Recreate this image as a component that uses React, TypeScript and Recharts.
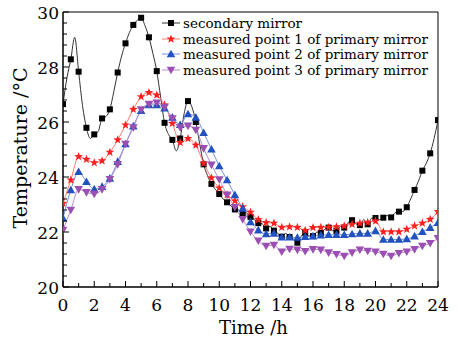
import React from 'react';
import { LineChart, Line, XAxis, YAxis, ReferenceArea } from 'recharts';

const WIDTH = 460;
const HEIGHT = 341;
const FONT = '"DejaVu Serif", "Liberation Serif", serif';

// Secondary mirror temperature, sampled every 0.25 h (markers every 0.5 h)
const secondaryMirror = [
  26.65, 27.6, 28.28, 29.08, 27.83, 26.6, 25.79, 25.4, 25.55, 25.65, 26.13, 26.2,
  26.46, 27.1, 27.8, 28.4, 28.86, 29.25, 29.53, 29.7, 29.79, 29.5, 29.08, 28.5,
  27.85, 26.9, 25.97, 25.55, 25.35, 24.95, 25.4, 26.3, 26.76, 26.55, 26.0, 25.2,
  24.46, 24.05, 23.75, 23.55, 23.38, 23.2, 23.08, 22.95, 22.82, 22.8, 22.68, 22.7,
  22.55, 22.45, 22.32, 22.3, 22.13, 22.2, 22.05, 21.95, 21.83, 21.95, 21.82, 21.75,
  21.61, 21.85, 21.97, 21.85, 21.85, 22.0, 21.97, 22.1, 22.16, 22.05, 22.04, 22.2,
  22.16, 22.35, 22.43, 22.3, 22.25, 22.45, 22.28, 22.5, 22.51, 22.45, 22.52, 22.6,
  22.53, 22.7, 22.74, 22.75, 22.9, 23.2, 23.53, 23.85, 24.23, 24.5, 24.86, 25.4,
  26.07,
];

// Primary mirror measured points, sampled every 0.5 h
const primaryPoint1 = [
  23.04, 23.89, 24.74, 24.64, 24.52, 24.59, 24.9, 25.35, 25.89, 26.46,
  26.92, 27.07, 26.98, 26.62, 25.95, 25.25, 25.4, 25.16, 24.5, 23.97,
  23.6, 23.35, 23.13, 22.92, 22.72, 22.45, 22.34, 22.32, 22.17, 22.19,
  22.17, 22.06, 22.16, 22.17, 22.17, 22.19, 22.22, 22.28, 22.32, 22.35,
  22.4, 22.01, 22.01, 22.01, 22.1, 22.22, 22.32, 22.46, 22.74,
];

const primaryPoint2 = [
  22.5, 23.53, 24.19, 23.83, 23.56, 23.65, 23.95, 24.56, 25.2, 25.85,
  26.41, 26.62, 26.62, 26.5, 26.17, 25.9, 26.29, 26.17, 25.61, 25.01,
  24.4, 23.89, 23.35, 22.86, 22.37, 22.07, 21.93, 21.95, 21.81, 21.81,
  21.8, 21.83, 21.85, 21.88, 21.9, 21.9, 21.9, 21.93, 21.95, 21.95,
  22.04, 21.73, 21.73, 21.73, 21.75, 21.85, 22.01, 22.16, 22.34,
];

const primaryPoint3 = [
  22.07, 22.8, 23.55, 23.44, 23.38, 23.55, 23.92, 24.46, 25.2, 25.8,
  26.45, 26.65, 26.7, 26.54, 26.13, 25.8, 25.86, 25.71, 25.04, 24.44,
  23.91, 23.35, 22.9, 22.46, 22.01, 21.68, 21.49, 21.53, 21.28, 21.38,
  21.35, 21.3, 21.37, 21.35, 21.25, 21.19, 21.13, 21.25, 21.35, 21.31,
  21.28, 21.2, 21.13, 21.23, 21.28, 21.37, 21.49, 21.59, 21.77,
];

const xMajorTicks = [0, 2, 4, 6, 8, 10, 12, 14, 16, 18, 20, 22, 24];
const xMinorTicks = [1, 3, 5, 7, 9, 11, 13, 15, 17, 19, 21, 23];
const yMajorTicks = [20, 22, 24, 26, 28, 30];
const yMinorTicks = [
  20.4, 20.8, 21.2, 21.6, 22.4, 22.8, 23.2, 23.6, 24.4, 24.8, 25.2, 25.6,
  26.4, 26.8, 27.2, 27.6, 28.4, 28.8, 29.2, 29.6,
];

type Row = { h: number; t: number };
const toRows = (values: number[], step: number): Row[] =>
  values.map((t, i) => ({ h: i * step, t }));

type Shape = 'square' | 'star' | 'up' | 'down';

const Marker = ({ shape, cx, cy, fill }: { shape: Shape; cx: number; cy: number; fill: string }) => {
  if (shape === 'square') {
    return <rect x={cx - 3} y={cy - 3} width={6} height={6} fill={fill} />;
  }
  if (shape === 'star') {
    const pts: string[] = [];
    for (let k = 0; k < 10; k++) {
      const r = k % 2 === 0 ? 4.6 : 1.9;
      const a = -Math.PI / 2 + (k * Math.PI) / 5;
      pts.push(`${cx + r * Math.cos(a)},${cy + r * Math.sin(a)}`);
    }
    return <polygon points={pts.join(' ')} fill={fill} />;
  }
  if (shape === 'up') {
    return <polygon points={`${cx},${cy - 4.3} ${cx - 4.3},${cy + 3.3} ${cx + 4.3},${cy + 3.3}`} fill={fill} />;
  }
  return <polygon points={`${cx},${cy + 4.3} ${cx - 4.3},${cy - 3.3} ${cx + 4.3},${cy - 3.3}`} fill={fill} />;
};

const series = [
  { name: 'secondary mirror', data: toRows(secondaryMirror, 0.25), every: 2, shape: 'square' as Shape, fill: '#000000', line: '#333333' },
  { name: 'measured point 1 of primary mirror', data: toRows(primaryPoint1, 0.5), every: 1, shape: 'star' as Shape, fill: '#ff1f1f', line: '#ff7a6e' },
  { name: 'measured point 2 of primary mirror', data: toRows(primaryPoint2, 0.5), every: 1, shape: 'up' as Shape, fill: '#2152c0', line: '#7391dc' },
  { name: 'measured point 3 of primary mirror', data: toRows(primaryPoint3, 0.5), every: 1, shape: 'down' as Shape, fill: '#9c4fb2', line: '#b68ccc' },
];

const XTick = (props: any) => {
  const { x, y, payload } = props;
  const major = xMajorTicks.includes(payload.value);
  return (
    <g>
      <line x1={x} x2={x} y1={y} y2={y - (major ? 6 : 4)} stroke="#000" strokeWidth={1} />
      {major && (
        <text x={x} y={y + 24} textAnchor="middle" fontFamily={FONT} fontSize={17} fill="#000">
          {payload.value}
        </text>
      )}
    </g>
  );
};

const YTick = (props: any) => {
  const { x, y, payload } = props;
  const major = yMajorTicks.includes(payload.value);
  return (
    <g>
      <line x1={x} x2={x + (major ? 6 : 4)} y1={y} y2={y} stroke="#000" strokeWidth={1} />
      {major && (
        <text x={x - 4} y={y + 7} textAnchor="end" fontFamily={FONT} fontSize={17} fill="#000">
          {payload.value}
        </text>
      )}
    </g>
  );
};

// Legend drawn in the upper right of the plot area
const LegendBox = () => (
  <div
    style={{
      position: 'absolute',
      left: 161,
      top: 15.5,
      fontFamily: FONT,
      fontSize: 13.5,
      color: '#000',
      pointerEvents: 'none',
    }}
  >
    {series.map((s) => (
      <div key={s.name} style={{ display: 'flex', alignItems: 'center', height: 15.6, whiteSpace: 'nowrap' }}>
        <svg width={21} height={12} style={{ display: 'block' }}>
          <line x1={1} x2={19} y1={6} y2={6} stroke={s.line} strokeWidth={1} />
          <Marker shape={s.shape} cx={10} cy={6} fill={s.fill} />
        </svg>
        <span style={{ marginLeft: 1 }}>{s.name}</span>
      </div>
    ))}
  </div>
);

export default function App() {
  return (
    <div style={{ position: 'absolute', left: 0, top: 0, width: WIDTH, height: HEIGHT, background: '#fff' }}>
      <LineChart width={WIDTH} height={HEIGHT} margin={{ top: 12, right: 22, left: 0, bottom: 0 }}>
        <XAxis
          dataKey="h"
          type="number"
          domain={[0, 24]}
          ticks={[...xMajorTicks, ...xMinorTicks].sort((a, b) => a - b)}
          height={54}
          tickSize={0}
          tickMargin={0}
          tickLine={false}
          axisLine={{ stroke: '#000' }}
          tick={<XTick />}
          interval={0}
          allowDataOverflow
          label={{
            content: (p: any) => {
              const vb = p.viewBox;
              return (
                <text x={vb.x + vb.width / 2 + 3} y={vb.y + 47} textAnchor="middle" fontFamily={FONT} fontSize={18} fill="#000">
                  Time /h
                </text>
              );
            },
          }}
        />
        <YAxis
          type="number"
          domain={[20, 30]}
          ticks={[...yMajorTicks, ...yMinorTicks].sort((a, b) => a - b)}
          width={63}
          tickSize={0}
          tickMargin={0}
          tickLine={false}
          axisLine={{ stroke: '#000' }}
          tick={<YTick />}
          interval={0}
          allowDataOverflow
          label={{
            content: () => (
              <text transform="translate(27,148) rotate(-90)" textAnchor="middle" fontFamily={FONT} fontSize={19} fill="#000">
                Temperature /°C
              </text>
            ),
          }}
        />
        <ReferenceArea x1={0} x2={24} y1={20} y2={30} fill="none" stroke="#000" strokeWidth={1} ifOverflow="visible" />
        {series.map((s) => (
          <Line
            key={s.name}
            name={s.name}
            data={s.data}
            dataKey="t"
            type="monotone"
            stroke={s.line}
            strokeWidth={1}
            isAnimationActive={false}
            activeDot={false}
            dot={(p: any) =>
              p.index % s.every === 0 ? (
                <Marker key={`${s.name}-${p.index}`} shape={s.shape} cx={p.cx} cy={p.cy} fill={s.fill} />
              ) : (
                <g key={`${s.name}-${p.index}`} />
              )
            }
          />
        ))}
      </LineChart>
      <LegendBox />
    </div>
  );
}
